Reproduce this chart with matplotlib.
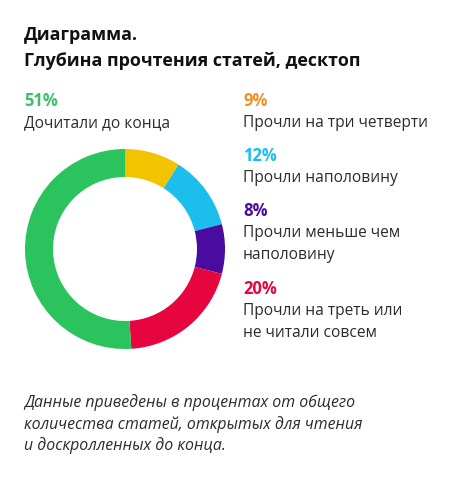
import matplotlib
matplotlib.use("Agg")
import matplotlib.pyplot as plt

W, H = 469, 486
values = [9, 12, 8, 20, 51]
slice_colors = ["#F2C400", "#1CBEEB", "#4A0CA0", "#E6053F", "#2BC35E"]
pct_colors = ["#EC922B", "#1CBEEB", "#4A0CA0", "#E6053F", "#3CBF68"]
labels = [["Прочли на три четверти"], ["Прочли наполовину"], ["Прочли меньше чем", "наполовину"],
          ["Прочли на треть или", "не читали совсем"], ["Дочитали до конца"]]
title_lines = ["Диаграмма.", "Глубина прочтения статей, десктоп"]
note_lines = ["Данные приведены в процентах от общего",
              "количества статей, открытых для чтения",
              "и доскролленных до конца."]

plt.rcParams['font.family'] = ['Open Sans', 'DejaVu Sans']
fig = plt.figure(figsize=(W / 100, H / 100), dpi=100)
fig.patch.set_facecolor("white")

def fx(x):
    return x / W

def fy(y):
    return 1 - y / H

txt = "#2b2b2b"
fig.text(fx(24), fy(35), title_lines[0], fontsize=12.9, fontweight='bold', color="#111111", va='center')
fig.text(fx(24), fy(61), title_lines[1], fontsize=12.9, fontweight='bold', color="#111111", va='center')

# legend items: (x, y_pct)
pos = [(243, 101), (243, 156), (243, 211), (243, 289), (24, 101)]
for (x, y), v, c, lab in zip(pos, values, pct_colors, labels):
    fig.text(fx(x), fy(y), f"{v}%", fontsize=12, fontweight='bold', color=c, va='center')
    for i, line in enumerate(lab):
        fig.text(fx(x), fy(y + 22 + 22 * i), line, fontsize=11.2, color=txt, va='center')

for i, line in enumerate(note_lines):
    fig.text(fx(24), fy(403 + 21.5 * i), line, fontsize=11.4, style='italic', color=txt, va='center')

ax = fig.add_axes([fx(25), 1 - 349 / H, 200 / W, 200 / H])
ax.pie(values, colors=slice_colors, startangle=90, counterclock=False, radius=1,
       wedgeprops=dict(width=0.28, linewidth=0))
ax.set_xlim(-1, 1)
ax.set_ylim(-1, 1)
ax.set_aspect('equal')
ax.axis('off')

fig.savefig("out.png", dpi=100, facecolor="white")
